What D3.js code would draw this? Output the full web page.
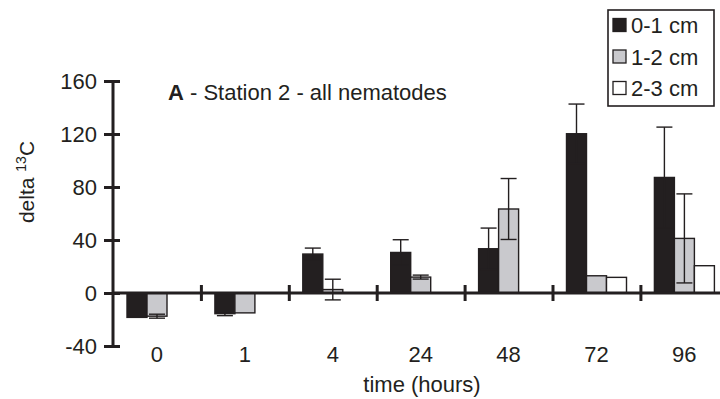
<!DOCTYPE html>
<html>
<head>
<meta charset="utf-8">
<style>
  body { margin: 0; background: #fff; }
  svg { display: block; font-family: "Liberation Sans", Arial, sans-serif; }
  .tick text { fill: #231f20; }
</style>
</head>
<body>
<script src="https://cdn.jsdelivr.net/npm/d3@7/dist/d3.min.js"></script>
<script>
// time points (hours)
var hours = ["0", "1", "4", "24", "48", "72", "96"];
var layers = ["0-1 cm", "1-2 cm", "2-3 cm"];

// delta 13C per layer
var shallow = [-18.4, -15.6, 29.4, 30.6, 33.4, 120.2, 87.2];
var shallowErr = [0, 1.5, 4.5, 9.6, 15.6, 22.4, 38];
var middle = [-17.5, -15, 2.6, 12, 63.4, 13, 41.2];
var middleErr = [1.5, 0, 7.8, 1.5, 23, 0, 33.6];
var deep = [0, 0, 0, 0, 0, 11.8, 20.6];
var deepErr = [0, 0, 0, 0, 0, 0, 0];

var yTicks = [-40, 0, 40, 80, 120, 160];

var ink = "#231f20";
var fills = [ink, "#c9c9cd", "#ffffff"];

var series = [
  {name: layers[0], values: shallow, err: shallowErr},
  {name: layers[1], values: middle, err: middleErr},
  {name: layers[2], values: deep, err: deepErr}
];

var W = 720, H = 399;
var svg = d3.select("body").append("svg")
  .attr("width", W).attr("height", H);

var y = d3.scaleLinear().domain([-40, 160]).range([346, 81]);
var x0 = d3.scaleBand().domain(hours).range([113, 728.3]);
var x1 = d3.scaleBand().domain(layers).range([14, 74]);

// bars
var groups = svg.append("g").selectAll("g")
  .data(hours)
  .enter().append("g")
  .attr("transform", function(d) { return "translate(" + x0(d) + ",0)"; });

groups.each(function(h, i) {
  var g = d3.select(this);
  series.forEach(function(s, j) {
    var v = s.values[i];
    g.append("rect")
      .attr("x", x1(s.name))
      .attr("y", y(Math.max(0, v)))
      .attr("width", x1.bandwidth())
      .attr("height", Math.abs(y(v) - y(0)))
      .attr("fill", fills[j])
      .attr("stroke", ink)
      .attr("stroke-width", 1.4);
  });
  // error bars on top of bars
  series.forEach(function(s, j) {
    var v = s.values[i], e = s.err[i];
    if (!e) return;
    var cx = x1(s.name) + x1.bandwidth() / 2;
    var eb = g.append("g").attr("stroke", ink).attr("stroke-width", 1.4);
    eb.append("line").attr("x1", cx).attr("x2", cx)
      .attr("y1", y(v - e)).attr("y2", y(v + e));
    eb.append("line").attr("x1", cx - 8).attr("x2", cx + 8)
      .attr("y1", y(v + e)).attr("y2", y(v + e));
    eb.append("line").attr("x1", cx - 8).attr("x2", cx + 8)
      .attr("y1", y(v - e)).attr("y2", y(v - e));
  });
});

// y axis
var yAxis = svg.append("g")
  .attr("transform", "translate(113,0)")
  .call(d3.axisLeft(y).tickValues(yTicks).tickSize(9).tickPadding(7).tickFormat(String));
yAxis.select(".domain").attr("stroke", ink).attr("stroke-width", 3)
  .attr("d", "M0," + y(160) + "V" + y(-40));
yAxis.selectAll(".tick line").attr("stroke", ink).attr("stroke-width", 3)
  .attr("x1", 7).attr("x2", -9);
yAxis.selectAll(".tick text").attr("font-size", "22px").attr("x", -16);

// zero line with group separators
var sep = d3.scaleLinear().domain([0, hours.length]).range(x0.range());
var xAxis = svg.append("g")
  .attr("transform", "translate(0," + y(0) + ")")
  .call(d3.axisBottom(sep).tickValues(d3.range(1, hours.length)).tickSize(8).tickFormat(""));
xAxis.select(".domain").attr("stroke", ink).attr("stroke-width", 3)
  .attr("d", "M113,0H720");
xAxis.selectAll(".tick line").attr("stroke", ink).attr("stroke-width", 3)
  .attr("y1", -8).attr("y2", 8);

// category labels below the plot
var xLab = svg.append("g")
  .attr("transform", "translate(0,346)")
  .call(d3.axisBottom(x0).tickSize(0).tickPadding(0));
xLab.select(".domain").remove();
xLab.selectAll(".tick text").attr("font-size", "22px");

// axis titles
svg.append("text")
  .attr("x", 422).attr("y", 392)
  .attr("text-anchor", "middle")
  .attr("font-size", "22px").attr("fill", ink)
  .text("time (hours)");

var yt = svg.append("text")
  .attr("transform", "translate(34,182) rotate(-90)")
  .attr("text-anchor", "middle")
  .attr("font-size", "21px").attr("fill", ink);
yt.append("tspan").text("delta ");
yt.append("tspan").attr("font-size", "14px").attr("dy", "-8").text("13");
yt.append("tspan").attr("dy", "8").text("C");

// panel title
var t = svg.append("text")
  .attr("x", 168).attr("y", 100)
  .attr("font-size", "22px").attr("fill", ink);
t.append("tspan").attr("font-weight", "bold").text("A");
t.append("tspan").text(" - Station 2 - all nematodes");

// legend
var leg = svg.append("g");
leg.append("rect")
  .attr("x", 608).attr("y", 10).attr("width", 106).attr("height", 96)
  .attr("fill", "#fff").attr("stroke", ink).attr("stroke-width", 1.6);
var rows = leg.selectAll("g.row")
  .data(series)
  .enter().append("g")
  .attr("class", "row")
  .attr("transform", function(d, i) { return "translate(613," + (25 + i * 31.5) + ")"; });
rows.append("rect")
  .attr("x", 0).attr("y", -6.5).attr("width", 13).attr("height", 13)
  .attr("fill", function(d, i) { return fills[i]; })
  .attr("stroke", ink).attr("stroke-width", 1.3);
rows.append("text")
  .attr("x", 18).attr("y", 8)
  .attr("font-size", "22px").attr("fill", ink)
  .text(function(d) { return d.name; });
</script>
</body>
</html>
